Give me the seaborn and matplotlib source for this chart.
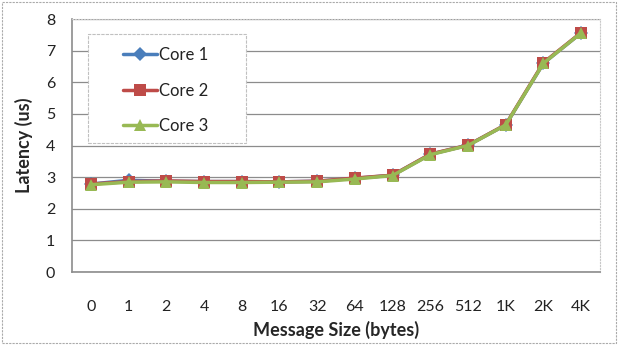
import numpy as np
import pandas as pd
import seaborn as sns
import matplotlib.pyplot as plt

sizes = ["0", "1", "2", "4", "8", "16", "32", "64", "128", "256", "512", "1K", "2K", "4K"]
core1 = [2.78, 2.90, 2.87, 2.86, 2.86, 2.85, 2.87, 2.96, 3.06, 3.72, 4.01, 4.65, 6.60, 7.56]
core2 = [2.78, 2.86, 2.88, 2.86, 2.86, 2.85, 2.87, 2.97, 3.06, 3.73, 4.01, 4.66, 6.62, 7.57]
core3 = [2.76, 2.84, 2.85, 2.83, 2.83, 2.84, 2.85, 2.94, 3.05, 3.71, 4.00, 4.65, 6.60, 7.56]

df = pd.DataFrame({"pos": np.arange(len(sizes))})
df["Core 1"] = core1
df["Core 2"] = core2
df["Core 3"] = core3
long = df.melt(id_vars="pos", var_name="core", value_name="latency")

sns.set_style("white")
plt.rcParams["font.family"] = ["Lato", "DejaVu Sans"]

fig = plt.figure(figsize=(6.18, 3.45), dpi=100)
ax = fig.add_axes([72 / 618, 1 - 272 / 345, (600 - 72) / 618, (272 - 19) / 345])

palette = {"Core 1": "#4a7ebb", "Core 2": "#be4b48", "Core 3": "#98b954"}
markers = {"Core 1": "D", "Core 2": "s", "Core 3": "^"}
sizes_m = {"Core 1": 7, "Core 2": 9, "Core 3": 9}
for core in ["Core 1", "Core 2", "Core 3"]:
    sub = long[long["core"] == core]
    sns.lineplot(data=sub, x="pos", y="latency", ax=ax, color=palette[core],
                 marker=markers[core], markersize=sizes_m[core], linewidth=2.5,
                 markeredgewidth=0, label=core)

ax.set_xlim(-0.5, len(sizes) - 0.5)
ax.set_ylim(0, 8)
ax.set_yticks(range(0, 9))
ax.set_xticks(np.arange(len(sizes)))
ax.set_xticklabels(sizes)
ax.set_xticks(np.arange(len(sizes) + 1) - 0.5, minor=True)
ax.tick_params(axis="x", which="major", length=0, pad=20, labelsize=11.5, colors="#222222")
ax.tick_params(axis="x", which="minor", length=5, direction="out", color="#888888")
ax.tick_params(axis="y", which="major", length=0, pad=12, labelsize=11.5, colors="#222222")
ax.yaxis.grid(True, color="#8c8c8c", linewidth=0.9)
ax.set_axisbelow(True)
for s in ["left", "bottom"]:
    ax.spines[s].set_color("#8c8c8c")
    ax.spines[s].set_linewidth(1.2)
for s in ["top", "right"]:
    ax.spines[s].set_color("#c8c8c8")
    ax.spines[s].set_linestyle(":")
ax.set_xlabel("Message Size (bytes)", fontweight="bold", fontsize=13, labelpad=5)
ax.set_ylabel("Latency (us)", fontweight="bold", fontsize=13, labelpad=9)

# legend box drawn separately (wide, with empty space on the left like the original)
ax.add_patch(plt.Rectangle((0.030, 0.51), 0.30, 0.431, transform=ax.transAxes,
                           facecolor="white", edgecolor="#c0c0c0", linewidth=0.8,
                           linestyle=(0, (3, 1)), zorder=4))
leg = ax.legend(loc="upper left", bbox_to_anchor=(0.096, 0.889), fontsize=12,
                frameon=False, handlelength=2.05, handletextpad=0.1,
                labelspacing=1.17, borderpad=0, borderaxespad=0)
leg.set_zorder(5)
for t in leg.get_texts():
    t.set_color("#222222")

# dashed outer border of the chart
fig.patches.append(plt.Rectangle((0.003, 0.005), 0.994, 0.99, transform=fig.transFigure,
                                 fill=False, edgecolor="#aaaaaa", linestyle=(0, (2, 1)),
                                 linewidth=0.8))

fig.savefig("out.png", dpi=100)
